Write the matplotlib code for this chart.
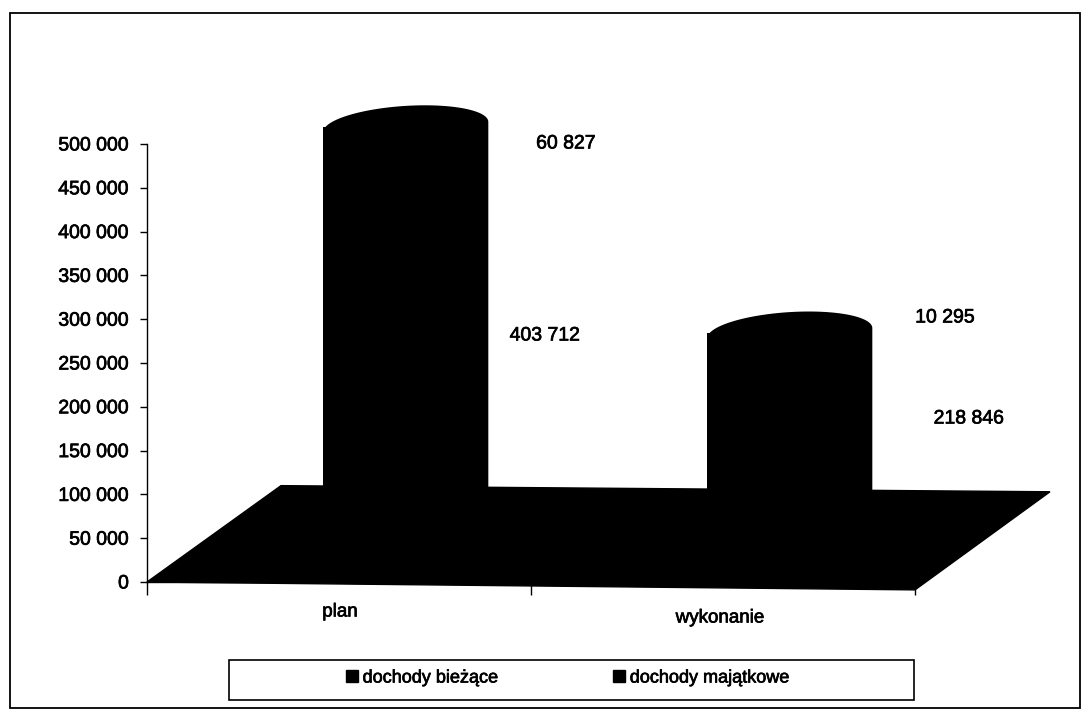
import matplotlib
matplotlib.use("Agg")
import numpy as np
import matplotlib.pyplot as plt
import matplotlib.patheffects as pe
from matplotlib.patches import Polygon, Rectangle
from matplotlib.lines import Line2D

categories = ["plan", "wykonanie"]
dochody_biezace = [403712, 218846]
dochody_majatkowe = [60827, 10295]
series_names = ["dochody bieżące", "dochody majątkowe"]
yticks = list(range(0, 500001, 50000))

plt.rcParams["font.family"] = ["Liberation Sans", "DejaVu Sans"]
W, H = 1088, 711
fig = plt.figure(figsize=(W / 100, H / 100), dpi=100, facecolor="white")
bold = [pe.withStroke(linewidth=0.5, foreground="black")]

def fx(px): return px / W
def fy(py): return 1 - py / H

fig.add_artist(Rectangle((fx(10), fy(708)), (1080 - 10) / W, (708 - 13) / H, transform=fig.transFigure,
                         fill=False, ec="black", lw=1.3))

ax = fig.add_axes([fx(147), fy(582), (915 - 147) / W, (582 - 144) / H])
ax.set_xlim(-0.5, 1.5)
ax.set_ylim(0, 500000)
ax.patch.set_visible(False)
for s in ["top", "right"]:
    ax.spines[s].set_visible(False)
for s in ["left", "bottom"]:
    ax.spines[s].set_linewidth(1.0)
ax.set_yticks(yticks)
ax.set_yticklabels([f"{v:,}".replace(",", " ") if v else "0" for v in yticks],
                   fontsize=14, color="black", path_effects=bold)
ax.set_xticks([-0.5, 0.5, 1.5])
ax.set_xticklabels([])
ax.tick_params(axis="y", length=5, width=1, pad=8)
ax.tick_params(axis="x", length=9, width=1)
for c, px, py in zip(categories, [340, 720], [612, 618]):
    fig.text(fx(px), fy(py), c, ha="center", va="center", fontsize=13.5, path_effects=bold)

# 3-D floor
floor = Polygon([(-0.5, 0), (-0.5 + 134 / 384, 110000), (1.5 + 135 / 384, 103000), (1.5, -9000)],
                closed=True, fc="black", ec="black", clip_on=False, zorder=2)
ax.add_patch(floor)

# cylinders
off_x, off_y = 0.174, 55000
bw = 165 / 384
eh = 21 / 438 * 500000
tilt = 5 / 438 * 500000
t = np.linspace(0, np.pi, 80)
for i, (a, b) in enumerate(zip(dochody_biezace, dochody_majatkowe)):
    x = i + off_x
    ax.bar(x, a, bottom=off_y, width=bw, color="black", zorder=3, clip_on=False)
    ax.bar(x, b, bottom=off_y + a, width=bw, color="black", zorder=3, clip_on=False)
    top = off_y + a + b
    arc = np.column_stack([x + bw / 2 * np.cos(t), top + eh * np.sin(t) + tilt * np.cos(t)])
    pts = np.vstack([arc, [[x - bw / 2, off_y], [x + bw / 2, off_y]]])
    ax.add_patch(Polygon(pts, closed=True, fc="black", ec="none", zorder=3, clip_on=False))

# data labels
lab = [(545, 336, dochody_biezace[0]), (969, 419, dochody_biezace[1]),
       (566, 144, dochody_majatkowe[0]), (945, 318, dochody_majatkowe[1])]
for px, py, v in lab:
    fig.text(fx(px), fy(py), f"{v:,}".replace(",", " "), ha="center", va="center",
             fontsize=14, path_effects=bold)

# legend
handles = [Line2D([], [], ls="", marker="s", ms=9, color="black", label=n) for n in series_names]
leg = fig.legend(handles=handles, ncol=2, loc="center", fontsize=13,
                 bbox_to_anchor=(fx(566), fy(678)), frameon=False, columnspacing=6.2,
                 handlelength=1.0, handletextpad=0.1)
for txt in leg.get_texts():
    txt.set_path_effects(bold)
fig.add_artist(Rectangle((fx(229), fy(700)), (914 - 229) / W, 40 / H, transform=fig.transFigure,
                         fill=False, ec="black", lw=1.2))
fig.savefig("out.png", dpi=100)
